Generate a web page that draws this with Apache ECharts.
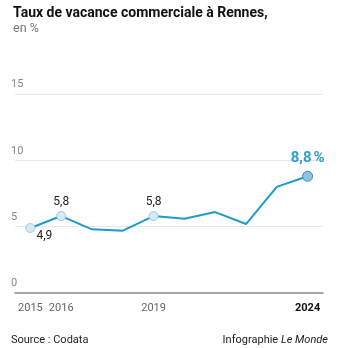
<!DOCTYPE html>
<html>
<head>
<meta charset="utf-8">
<script src="https://cdn.jsdelivr.net/npm/echarts@6/dist/echarts.min.js"></script>
<style>
  html, body { margin: 0; padding: 0; background: #fff; }
  #chart { width: 346px; height: 348px; }
</style>
</head>
<body>
<div id="chart"></div>
<script>
// Vacancy rate of retail premises in Rennes, in percent
const years = ['2015', '2016', '2017', '2018', '2019', '2020', '2021', '2022', '2023', '2024'];
const rates = [4.9, 5.8, 4.8, 4.7, 5.8, 5.6, 6.1, 5.2, 8.0, 8.8];
const shownYears = ['2015', '2016', '2019', '2024'];
const yTicks = [0, 5, 10, 15];

const FONT = 'Roboto, "Noto Sans", sans-serif';
const LINE = '#1d9bcf';
const fmt = v => String(v.toFixed(1)).replace('.', ',');

const lastIdx = rates.length - 1;
const labelled = { 0: 'below', 1: 'above', 4: 'above' };

const points = rates.map((v, i) => {
  const item = { value: v };
  if (i === lastIdx) {
    item.symbolSize = 10;
    item.itemStyle = { color: '#8fc3e3', borderColor: '#3d8ab8', borderWidth: 1 };
    item.label = {
      show: true, position: 'top', distance: 5,
      formatter: fmt(v) + '\u202f%',
      color: '#2a9fd6', fontSize: 15, fontWeight: 'bold', fontFamily: FONT
    };
  } else if (labelled[i] === 'above') {
    item.label = { show: true, position: 'top', distance: 3, formatter: fmt(v) };
  } else if (labelled[i] === 'below') {
    item.label = { show: true, position: 'bottom', distance: 0, offset: [14, -3], formatter: fmt(v) };
  } else {
    item.symbol = 'none';
  }
  return item;
});

const chart = echarts.init(document.getElementById('chart'), null, { renderer: 'canvas' });
chart.setOption({
  animation: false,
  backgroundColor: '#fff',
  title: [
    {
      text: 'Taux de vacance commerciale à Rennes,',
      subtext: 'en %',
      left: 8, top: 1, itemGap: 2,
      textStyle: { fontFamily: FONT, fontSize: 14, fontWeight: 'bold', color: '#111' },
      subtextStyle: { fontFamily: FONT, fontSize: 12.5, color: '#777' }
    },
    {
      text: 'Source : Codata',
      left: 6, top: 330,
      textStyle: { fontFamily: FONT, fontSize: 11, fontWeight: 'normal', color: '#222' }
    },
    {
      text: 'Infographie {i|Le Monde}',
      right: 13, top: 330,
      textStyle: {
        fontFamily: FONT, fontSize: 11, fontWeight: 'normal', color: '#222',
        rich: { i: { fontFamily: FONT, fontSize: 11, fontStyle: 'italic', color: '#222' } }
      }
    }
  ],
  grid: { left: 15, right: 23, top: 94, bottom: 55, containLabel: false },
  xAxis: {
    type: 'category',
    data: years,
    boundaryGap: true,
    axisLine: { show: true, lineStyle: { color: '#8a8a8a', width: 1.5 } },
    axisTick: { show: false },
    axisLabel: {
      interval: 0, margin: 10,
      fontFamily: FONT, fontSize: 11, color: '#666',
      formatter: v => v === years[lastIdx] ? '{b|' + v + '}' : (shownYears.includes(v) ? v : ''),
      rich: { b: { fontFamily: FONT, fontSize: 11, fontWeight: 'bold', color: '#111' } }
    }
  },
  yAxis: {
    type: 'value',
    min: yTicks[0], max: yTicks[yTicks.length - 1], interval: 5,
    axisLine: { show: false },
    axisTick: { show: false },
    splitLine: { lineStyle: { color: '#e9e9e9', width: 1 } },
    axisLabel: {
      inside: true, margin: -4,
      verticalAlign: 'bottom', padding: [0, 0, 4, 0],
      fontFamily: FONT, fontSize: 11, color: '#888',
      formatter: v => yTicks.includes(v) ? String(v) : ''
    }
  },
  series: [{
    type: 'line',
    data: points,
    symbol: 'circle',
    symbolSize: 9,
    showAllSymbol: true,
    lineStyle: { color: LINE, width: 2 },
    itemStyle: { color: '#d5e9f6', borderColor: '#9ccae8', borderWidth: 1 },
    label: { fontFamily: FONT, fontSize: 12, color: '#222' },
    emphasis: { disabled: true },
    z: 3
  }]
});
</script>
</body>
</html>
